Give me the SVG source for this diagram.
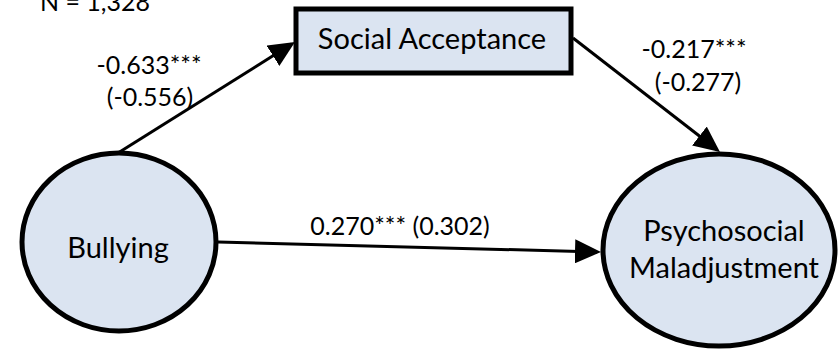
<svg xmlns="http://www.w3.org/2000/svg" width="840" height="349" viewBox="0 0 840 349">
<style>
.node{fill:#DBE4F1;stroke:#000;stroke-width:5}
.ntext{font-family:Lato,"Liberation Sans",sans-serif;font-size:29px;fill:#000;text-anchor:middle}
.lbl{font-family:Lato,"Liberation Sans",sans-serif;font-size:25px;fill:#000;text-anchor:middle}
.edge{stroke:#000;stroke-width:3;fill:none;marker-end:url(#arr)}
</style>
<defs>
<marker id="arr" markerUnits="userSpaceOnUse" markerWidth="26" markerHeight="24" refX="22" refY="12" orient="auto" viewBox="0 0 26 24">
<path d="M0,0 L26,12 L0,24 z" fill="#000"/>
</marker>
</defs>
<rect width="840" height="349" fill="#fff"/>
<g id="connectors">
<line class="edge" x1="118" y1="153" x2="291.6" y2="44.1"/>
<line class="edge" x1="573" y1="38" x2="716.8" y2="149.5"/>
<line class="edge" x1="218" y1="242" x2="597" y2="251.9"/>
</g>
<g id="social-acceptance">
<rect class="node" x="296" y="9" width="275" height="64"/>
<text class="ntext" x="432" y="49">Social Acceptance</text>
</g>
<g id="bullying">
<ellipse class="node" cx="119" cy="242" rx="97" ry="89"/>
<text class="ntext" x="118" y="258">Bullying</text>
</g>
<g id="psychosocial-maladjustment">
<ellipse class="node" cx="719" cy="250" rx="116" ry="96"/>
<text class="ntext" x="724" y="241">Psychosocial</text>
<text class="ntext" x="724" y="278">Maladjustment</text>
</g>
<g id="labels">
<text class="lbl" x="95" y="11">N = 1,328</text>
<text class="lbl" x="149" y="74">-0.633***</text>
<text class="lbl" x="150" y="106">(-0.556)</text>
<text class="lbl" x="694" y="58">-0.217***</text>
<text class="lbl" x="698" y="91">(-0.277)</text>
<text class="lbl" x="400" y="235">0.270*** (0.302)</text>
</g>
</svg>
